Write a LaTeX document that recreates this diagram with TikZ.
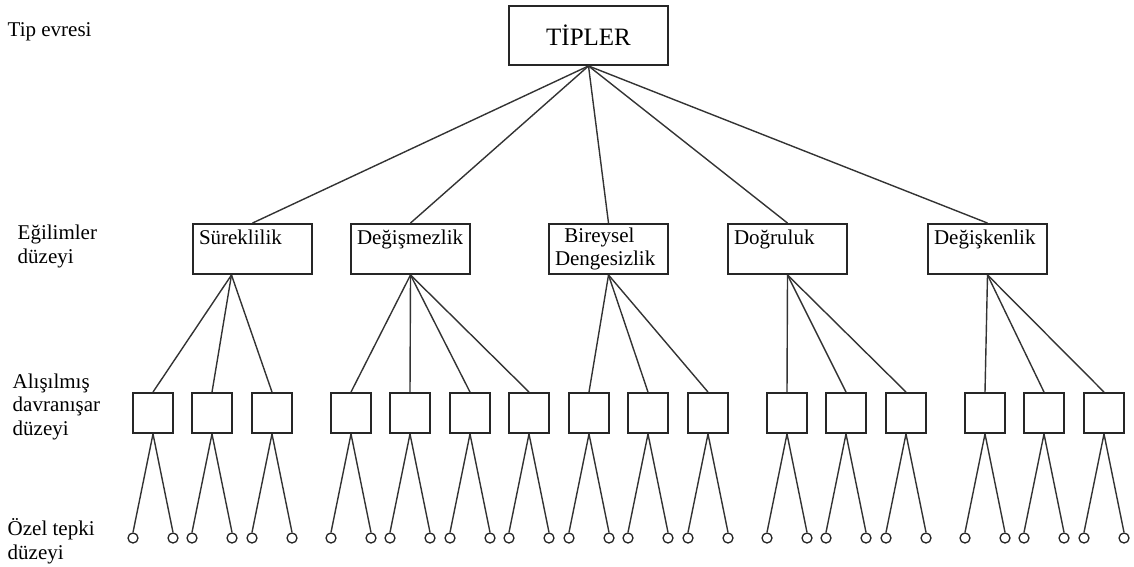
\documentclass[tikz,border=0pt]{standalone}
\usepackage{fontspec}
\setmainfont{Liberation Serif}
\usetikzlibrary{positioning}
\def\respsep{20}

\begin{document}
\begin{tikzpicture}[x=1pt, y=-1pt, draw=black!80, line width=1.4pt]
        \tikzstyle{every node}=[font=\fontsize{21}{23.5}\selectfont];
        \tikzstyle{level}=[align=left, anchor=base west, inner sep=0pt];
        \tikzstyle{box}=[draw=black!85, line width=1.9pt];
        \tikzstyle{type box}=[box, minimum width=159pt, minimum height=59pt, font=\fontsize{25}{28}\selectfont];
        \tikzstyle{trait box}=[box, minimum width=119pt, minimum height=50pt, text width=107pt, align=left, inner xsep=6pt, inner ysep=2pt];
        \tikzstyle{habit box}=[box, minimum size=40pt, inner sep=0pt];
        \tikzstyle{response}=[circle, draw=black!85, line width=1.3pt, minimum size=10pt, inner sep=0pt];

        \useasboundingbox (0,0) rectangle (1134,566);

        % level labels
        \node[level] (L-1) at (7,36) {Tip evresi};
        \node[level] (L-2) at (17,263) {Eğilimler\\düzeyi};
        \node[level] (L-3) at (12,435) {Alışılmış\\davranışar\\düzeyi};
        \node[level] (L-4) at (7,559) {Özel tepki\\düzeyi};

        % type
        \node[type box] (T) at (588.5,35.5) {TİPLER};
        % traits
        \node[trait box] (E-1) at (252.5,249) {Süreklilik\\\mbox{}};
        \node[trait box] (E-2) at (410.5,249) {Değişmezlik\\\mbox{}};
        \node[trait box] (E-3) at (608.5,249) {\hspace*{0.45em}Bireysel\\Dengesizlik};
        \node[trait box] (E-4) at (787.5,249) {Doğruluk\\\mbox{}};
        \node[trait box] (E-5) at (987.5,249) {Değişkenlik\\\mbox{}};
        % habits and their responses
        \foreach \name / \x in {1/153,2/212,3/272,4/351,5/410,6/470,7/529,8/589,
                9/648,10/708,11/787,12/846,13/906,14/985,15/1044,16/1104} {
            \node[habit box] (A-\name) at (\x,413) {};
            \node[response] (R-\name-a) at (\x-\respsep,538) {};
            \node[response] (R-\name-b) at (\x+\respsep,538) {};
            \path (A-\name.south) edge (R-\name-a.north)
                                  edge (R-\name-b.north);
        }

        % Connect type to traits
        \foreach \dest in {1,...,5}
            \path (T.south) edge (E-\dest.north);
        % Connect traits to habits
        \foreach \dest in {1,2,3}
            \path (E-1.231) edge (A-\dest.north);
        \foreach \dest in {4,...,7}
            \path (E-2.south) edge (A-\dest.north);
        \foreach \dest in {8,9,10}
            \path (E-3.south) edge (A-\dest.north);
        \foreach \dest in {11,12,13}
            \path (E-4.south) edge (A-\dest.north);
        \foreach \dest in {14,15,16}
            \path (E-5.south) edge (A-\dest.north);
\end{tikzpicture}
\end{document}
